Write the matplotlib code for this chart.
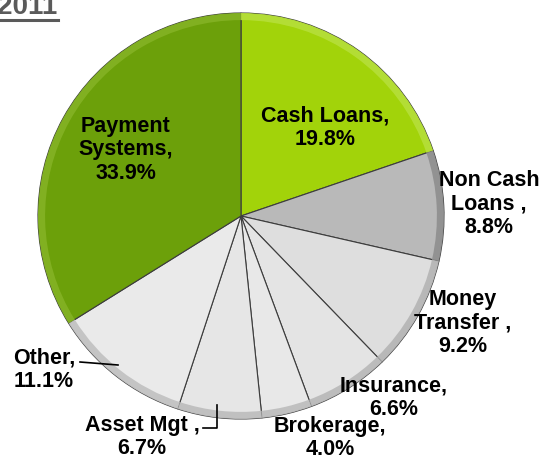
import matplotlib.pyplot as plt
from matplotlib.lines import Line2D

plt.rcParams['font.family'] = ['Liberation Sans', 'DejaVu Sans']

# Revenue split by business line, 2011 (%)
segments = ["Cash Loans", "Non Cash Loans", "Money Transfer", "Insurance",
            "Brokerage", "Asset Mgt", "Other", "Payment Systems"]
shares = [19.8, 8.8, 9.2, 6.6, 4.0, 6.7, 11.1, 33.9]
label_text = ["Cash Loans,\n{}%", "Non Cash\nLoans ,\n{}%", "Money\nTransfer ,\n{}%",
              "Insurance,\n{}%", "Brokerage,\n{}%", "Asset Mgt ,\n{}%",
              "Other,\n{}%", "Payment\nSystems,\n{}%"]
year = "2011"

colors = ["#a2d30a", "#b9b9b9", "#dedede", "#e4e4e4",
          "#e8e8e8", "#e6e6e6", "#eaeaea", "#6ca00a"]
rim_colors = ["#b6df3a", "#8e8e8e", "#b4b4b4", "#b8b8b8",
              "#bcbcbc", "#bcbcbc", "#c0c0c0", "#84b224"]

W, H = 539, 461
cx, cy, R = 241, 216, 203


def px(x, y):
    # pixel position -> data coords (pie radius = 1)
    return (x - cx) / R, (cy - y) / R


fig = plt.figure(figsize=(W / 100, H / 100), dpi=100)
ax = fig.add_axes([0, 0, 1, 1])

ax.pie(shares, colors=colors, startangle=90, counterclock=False, radius=1.0,
       wedgeprops=dict(edgecolor="#3c3c3c", linewidth=0.8))

# shaded rim along the outer edge
ax.pie(shares, colors=rim_colors, startangle=90, counterclock=False, radius=1.0,
       wedgeprops=dict(width=0.035, edgecolor="none", linewidth=0, alpha=0.9))

x0, x1 = px(0, 0)[0], px(W, 0)[0]
y1, y0 = px(0, 0)[1], px(0, H)[1]
ax.set_xlim(x0, x1)
ax.set_ylim(y0, y1)
ax.set_aspect("auto")
ax.axis("off")

# label anchor points in pixels
label_pos = [(325, 128), (489, 204), (463, 323), (394, 398),
             (330, 438), (142, 437), (44, 370), (126, 150)]
for txt, val, (lx, ly) in zip(label_text, shares, label_pos):
    X, Y = px(lx, ly)
    ax.text(X, Y, txt.format(val), ha="center", va="center", fontsize=15.5,
            fontweight="bold", color="black", linespacing=1.17)

# leader lines for the two lower-left labels
ax.add_line(Line2D(*zip(px(80, 362), px(118, 365)), color="black", lw=1.2))
ax.add_line(Line2D(*zip(px(203, 428), px(217, 428), px(217, 405)),
                   color="black", lw=1.2))

# year heading, underlined
fig.text(-3 / W, 1 - 14 / H, year, fontsize=20, fontweight="bold",
         color="#5a5a5a", ha="left", va="baseline")
fig.add_artist(Line2D([0, 58 / W], [1 - 20 / H, 1 - 20 / H],
                      transform=fig.transFigure, color="#5a5a5a", lw=2.2))

fig.savefig("out.png", dpi=100)
